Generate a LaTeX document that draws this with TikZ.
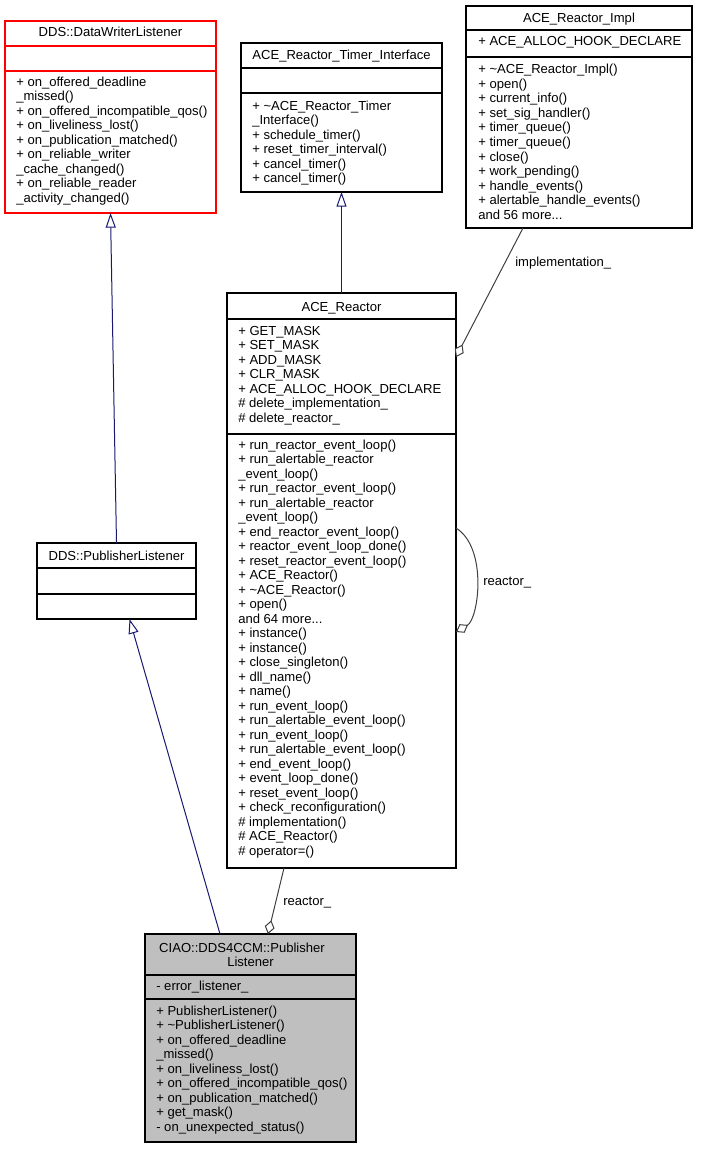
\documentclass[tikz,border=0pt]{standalone}
\usepackage{fontspec}
\setmainfont{Liberation Sans}
\usetikzlibrary{arrows.meta}
\definecolor{navyedge}{HTML}{191970}
\definecolor{aggedge}{HTML}{404040}
\definecolor{ciaofill}{HTML}{BFBFBF}
\tikzset{
  comp/.style={draw=black, line width=0.8pt, rectangle, anchor=north west, inner sep=0pt, outer sep=0pt},
  txt/.style={anchor=base west, inner sep=0pt, font=\fontsize{9.8}{11.6}\selectfont},
  ttl/.style={anchor=base, inner sep=0pt, font=\fontsize{9.8}{11.6}\selectfont},
  inh/.style={draw=navyedge, line width=0.75pt, -{Triangle[fill=white, length=11pt, width=7.5pt]}},
  agg/.style={draw=aggedge, line width=0.75pt, -{Diamond[fill=white, length=10.5pt, width=7.5pt]}}
}
\newcommand\threedots{.{}.{}.}
\newcommand\classlines[4]{%
  \foreach \t [count=\i from 0] in {#4} {
    \node[txt] (#3\i) at (#1, #2+14.5*\i) {\t};
  }}
\begin{document}
\begin{tikzpicture}[x=0.75pt, y=-0.75pt]
\useasboundingbox (0,0) rectangle (701,1149);

% DDS::DataWriterListener
\node[comp, draw=red, minimum width=211*0.75pt, minimum height=25*0.75pt] (dwl-t) at (5,21) {};
\node[comp, draw=red, minimum width=211*0.75pt, minimum height=25*0.75pt] (dwl-a) at (5,46) {};
\node[comp, draw=red, minimum width=211*0.75pt, minimum height=142*0.75pt] (dwl-m) at (5,71) {};
\node[ttl] (dwl-n) at (110.5,37) {DDS::DataWriterListener};
\classlines{16}{86}{dwlm}{+ on\_offered\_deadline, \_missed(), + on\_offered\_incompatible\_qos(), + on\_liveliness\_lost(), + on\_publication\_matched(), + on\_reliable\_writer, \_cache\_changed(), + on\_reliable\_reader, \_activity\_changed()}

% ACE_Reactor_Timer_Interface
\node[comp, minimum width=201*0.75pt, minimum height=25*0.75pt] (tm-t) at (241,43) {};
\node[comp, minimum width=201*0.75pt, minimum height=25*0.75pt] (tm-a) at (241,68) {};
\node[comp, minimum width=201*0.75pt, minimum height=99*0.75pt] (tm-m) at (241,93) {};
\node[ttl] (tm-n) at (341.5,60) {ACE\_Reactor\_Timer\_Interface};
\classlines{252}{110}{tmm}{+ \textasciitilde ACE\_Reactor\_Timer, \_Interface(), + schedule\_timer(), + reset\_timer\_interval(), + cancel\_timer(), + cancel\_timer()}

% ACE_Reactor_Impl
\node[comp, minimum width=226*0.75pt, minimum height=24*0.75pt] (impl-t) at (466,6) {};
\node[comp, minimum width=226*0.75pt, minimum height=27*0.75pt] (impl-a) at (466,30) {};
\node[comp, minimum width=226*0.75pt, minimum height=171*0.75pt] (impl-m) at (466,57) {};
\node[ttl] (impl-n) at (579,23) {ACE\_Reactor\_Impl};
\node[txt] (impl-a0) at (478,46) {+ ACE\_ALLOC\_HOOK\_DECLARE};
\classlines{478}{74}{implm}{+ \textasciitilde ACE\_Reactor\_Impl(), + open(), + current\_info(), + set\_sig\_handler(), + timer\_queue(), + timer\_queue(), + close(), + work\_pending(), + handle\_events(), + alertable\_handle\_events(), and 56 more\threedots}

% ACE_Reactor
\node[comp, minimum width=229*0.75pt, minimum height=26*0.75pt] (r-t) at (227,293) {};
\node[comp, minimum width=229*0.75pt, minimum height=115*0.75pt] (r-a) at (227,319) {};
\node[comp, minimum width=229*0.75pt, minimum height=434*0.75pt] (r-m) at (227,434) {};
\node[ttl] (r-n) at (341.5,311) {ACE\_Reactor};
\classlines{238}{335}{ra}{+ GET\_MASK, + SET\_MASK, + ADD\_MASK, + CLR\_MASK, + ACE\_ALLOC\_HOOK\_DECLARE, \# delete\_implementation\_, \# delete\_reactor\_}
\classlines{238}{449}{rm}{+ run\_reactor\_event\_loop(), + run\_alertable\_reactor, \_event\_loop(), + run\_reactor\_event\_loop(), + run\_alertable\_reactor, \_event\_loop(), + end\_reactor\_event\_loop(), + reactor\_event\_loop\_done(), + reset\_reactor\_event\_loop(), + ACE\_Reactor(), + \textasciitilde ACE\_Reactor(), + open(), and 64 more\threedots, + instance(), + instance(), + close\_singleton(), + dll\_name(), + name(), + run\_event\_loop(), + run\_alertable\_event\_loop(), + run\_event\_loop(), + run\_alertable\_event\_loop(), + end\_event\_loop(), + event\_loop\_done(), + reset\_event\_loop(), + check\_reconfiguration(), \# implementation(), \# ACE\_Reactor(), \# operator=()}

% DDS::PublisherListener
\node[comp, minimum width=159*0.75pt, minimum height=25*0.75pt] (pl-t) at (37,543) {};
\node[comp, minimum width=159*0.75pt, minimum height=26*0.75pt] (pl-a) at (37,568) {};
\node[comp, minimum width=159*0.75pt, minimum height=25*0.75pt] (pl-m) at (37,594) {};
\node[ttl] (pl-n) at (116.5,560) {DDS::PublisherListener};

% CIAO::DDS4CCM::PublisherListener
\node[comp, fill=ciaofill, minimum width=211*0.75pt, minimum height=41*0.75pt] (ciao-t) at (145,934) {};
\node[comp, fill=ciaofill, minimum width=211*0.75pt, minimum height=24*0.75pt] (ciao-a) at (145,975) {};
\node[comp, fill=ciaofill, minimum width=211*0.75pt, minimum height=143*0.75pt] (ciao-m) at (145,999) {};
\node[ttl] (ciao-n1) at (242,952) {CIAO::DDS4CCM::Publisher};
\node[ttl] (ciao-n2) at (250.5,966) {Listener};
\node[txt] (ciao-a0) at (156,990) {- error\_listener\_};
\classlines{156}{1015}{cm}{+ PublisherListener(), + \textasciitilde PublisherListener(), + on\_offered\_deadline, \_missed(), + on\_liveliness\_lost(), + on\_offered\_incompatible\_qos(), + on\_publication\_matched(), + get\_mask(), - on\_unexpected\_status()}

% inheritance
\draw[inh] (pl-t.north) -- (dwl-m.south);
\draw[inh] (r-t.north) -- (tm-m.south);
\draw[inh] ([xshift=75*0.75pt]ciao-t.north west) -- ([xshift=92.5*0.75pt]pl-m.south west);

% aggregation
\draw[agg] ([xshift=57*0.75pt]impl-m.south west) -- ([yshift=14.6pt]r-a.east);
\draw[agg] ([yshift=92.25pt]r-m.east) .. controls +(24pt,-15pt) and +(17pt,10pt) .. ([yshift=14.25pt]r-m.east);
\draw[agg] ([xshift=57*0.75pt]r-m.south west) -- ([xshift=123*0.75pt]ciao-t.north west);

% labels
\node[txt] (lbl-impl) at (515,266) {implementation\_};
\node[txt] (lbl-self) at (483,585) {reactor\_};
\node[txt] (lbl-bot) at (283,905) {reactor\_};
\end{tikzpicture}
\end{document}
